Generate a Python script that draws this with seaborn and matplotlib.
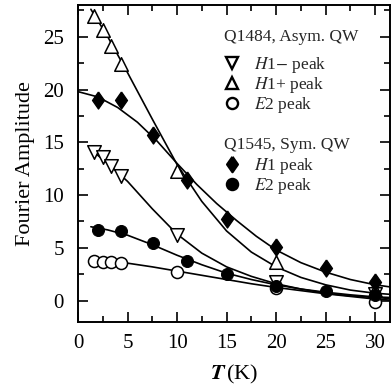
import matplotlib
matplotlib.use("Agg")
import matplotlib.pyplot as plt
from matplotlib.lines import Line2D
from matplotlib.ticker import MultipleLocator
import pandas as pd
import seaborn as sns

# measured points
T_asym = [1.6, 2.5, 3.3, 4.3, 10, 20, 30]
h1_minus = [14.1, 13.6, 12.8, 11.8, 6.2, 1.8, 0.6]
h1_plus = [27.0, 25.6, 24.1, 22.4, 12.3, 3.7, 1.0]
e2_asym = [3.8, 3.7, 3.7, 3.6, 2.7, 1.2, -0.1]

T_sym = [2, 4.3, 7.6, 11, 15, 20, 25, 30]
h1_sym = [19.0, 19.0, 15.7, 11.4, 7.7, 5.1, 3.1, 1.8]
e2_sym = [6.7, 6.6, 5.5, 3.8, 2.5, 1.4, 0.9, 0.5]

# fitted curves
fit_T = [1.3, 3, 5, 7.5, 10, 12.5, 15, 17.5, 20, 22.5, 25, 27.5, 30, 31.5]
fit_h1_plus = [27.6, 25.0, 21.6, 17.2, 12.9, 9.4, 6.6, 4.6, 3.2, 2.2, 1.5, 1.0, 0.7, 0.6]
fit_h1_minus = [14.3, 13.0, 11.3, 8.7, 6.3, 4.5, 3.2, 2.3, 1.6, 1.1, 0.7, 0.45, 0.3, 0.2]
fit_e2_sym = [7.0, 6.7, 6.2, 5.3, 4.3, 3.4, 2.6, 2.0, 1.5, 1.1, 0.8, 0.55, 0.35, 0.3]
fit_e2_asym = [4.0, 3.8, 3.55, 3.2, 2.8, 2.4, 2.0, 1.6, 1.25, 0.95, 0.65, 0.4, 0.15, 0.05]
fit_T_h1 = [0, 2, 4, 6, 8, 10, 12, 14, 16, 18, 20, 22.5, 25, 27.5, 30, 31.5]
fit_h1_sym = [19.8, 19.3, 18.3, 16.9, 15.1, 13.0, 11.0, 9.2, 7.6, 6.1, 4.8, 3.6, 2.7, 2.0, 1.5, 1.3]

sns.set_theme(style="ticks")
plt.rcParams['font.family'] = ['Liberation Serif', 'DejaVu Serif']
plt.rcParams['mathtext.fontset'] = 'stix'

fig = plt.figure(figsize=(3.91, 3.90), dpi=100)
ax = fig.add_axes([78/391, 0.175, 312/391, 0.812])

fits = pd.concat([
    pd.DataFrame({'T': fit_T, 'A': fit_h1_plus, 'k': 'a'}),
    pd.DataFrame({'T': fit_T, 'A': fit_h1_minus, 'k': 'b'}),
    pd.DataFrame({'T': fit_T, 'A': fit_e2_sym, 'k': 'c'}),
    pd.DataFrame({'T': fit_T, 'A': fit_e2_asym, 'k': 'd'}),
    pd.DataFrame({'T': fit_T_h1, 'A': fit_h1_sym, 'k': 'e'}),
])
sns.lineplot(data=fits, x='T', y='A', units='k', estimator=None, color='black',
             lw=1.2, ax=ax, sort=False)

diamond = [(0, 1), (0.7, 0), (0, -1), (-0.7, 0), (0, 1)]
ms = 95
sns.scatterplot(x=T_asym, y=h1_minus, marker='v', s=ms, facecolor='white',
                edgecolor='black', linewidth=1.1, ax=ax, zorder=3)
sns.scatterplot(x=T_asym, y=h1_plus, marker='^', s=ms, facecolor='white',
                edgecolor='black', linewidth=1.1, ax=ax, zorder=3)
sns.scatterplot(x=T_asym, y=e2_asym, marker='o', s=75, facecolor='white',
                edgecolor='black', linewidth=1.1, ax=ax, zorder=3)
sns.scatterplot(x=T_sym, y=h1_sym, marker=diamond, s=150, color='black',
                edgecolor='black', ax=ax, zorder=3)
sns.scatterplot(x=T_sym, y=e2_sym, marker='o', s=75, color='black',
                edgecolor='black', ax=ax, zorder=3)

ax.set_xlim(0, 31.5)
ax.set_ylim(-2, 28)
ax.xaxis.set_major_locator(MultipleLocator(5))
ax.xaxis.set_minor_locator(MultipleLocator(2.5))
ax.yaxis.set_major_locator(MultipleLocator(5))
ax.yaxis.set_minor_locator(MultipleLocator(2.5))
ax.tick_params(which='both', direction='in', top=True, right=True,
               labelsize=15, width=1.2, color='black', labelcolor='black')
ax.tick_params(which='major', length=7)
ax.tick_params(which='minor', length=4)
ax.tick_params(axis='x', which='major', pad=9)
ax.tick_params(axis='y', which='major', pad=10)
for sp in ax.spines.values():
    sp.set_visible(True)
    sp.set_linewidth(1.4)
    sp.set_color('black')

ax.set_xlabel(r'$\mathbfit{T}\,$(K)', fontsize=16, color='black', labelpad=7)
ax.set_ylabel('Fourier Amplitude', fontsize=16, color='black', labelpad=6)

def mk(m, filled):
    return Line2D([], [], ls='', marker=m, markersize=8 if m != diamond else 11,
                  markerfacecolor='black' if filled else 'white',
                  markeredgecolor='black', markeredgewidth=1.7)

fs = 12.5
leg1 = ax.legend([mk('v', False), mk('^', False), mk('o', False)],
                 [r'$H$1$-$ peak', r'$H$1+ peak', r'$E$2 peak'],
                 title='Q1484, Asym. QW', loc='upper left',
                 bbox_to_anchor=(0.468, 0.924), frameon=False, fontsize=fs,
                 title_fontsize=fs, handlelength=0.95, handletextpad=0.8,
                 labelspacing=0.0, borderpad=0, borderaxespad=0)
leg1._legend_box.align = 'left'
leg1._legend_box.sep = 7
ax.add_artist(leg1)
leg2 = ax.legend([mk(diamond, True), mk('o', True)],
                 [r'$H$1 peak', r'$E$2 peak'],
                 title='Q1545, Sym. QW', loc='upper left',
                 bbox_to_anchor=(0.468, 0.583), frameon=False, fontsize=fs,
                 title_fontsize=fs, handlelength=0.95, handletextpad=0.8,
                 labelspacing=0.0, borderpad=0, borderaxespad=0)
leg2._legend_box.align = 'left'
leg2._legend_box.sep = 2

fig.savefig('out.png', dpi=100)
